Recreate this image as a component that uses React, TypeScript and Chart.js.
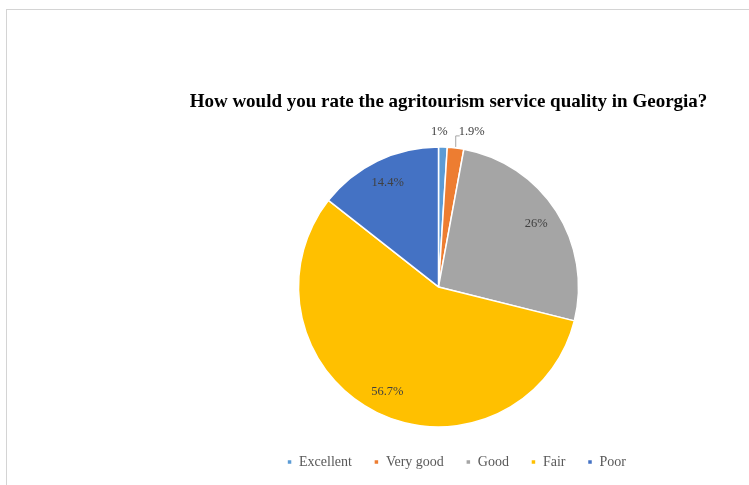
import React, { useEffect, useRef } from "react";
import { Chart, registerables } from "chart.js";

Chart.register(...registerables);

const TITLE = "How would you rate the agritourism service quality in Georgia?";
const categories = ["Excellent", "Very good", "Good", "Fair", "Poor"];
const values = [1, 1.9, 26, 56.7, 14.4];
const valueLabels = ["1%", "1.9%", "26%", "56.7%", "14.4%"];
const colors = ["#5B9BD5", "#ED7D31", "#A5A5A5", "#FFC000", "#4472C4"];

const SERIF = '"Liberation Serif", "Times New Roman", serif';

const shiftPlugin = {
  id: "shiftPie",
  afterLayout(chart: any) {
    const a = chart.chartArea;
    a.left -= 10;
    a.right -= 10;
    if (chart.legend) {
      chart.legend.left += 8;
      chart.legend.right += 8;
    }
  },
};

const labelPlugin = {
  id: "sliceLabels",
  afterDatasetsDraw(chart: any) {
    const ctx = chart.ctx;
    const meta = chart.getDatasetMeta(0);
    ctx.save();
    ctx.font = `12.5px ${SERIF}`;
    ctx.fillStyle = "#404040";
    ctx.textBaseline = "middle";
    meta.data.forEach((arc: any, i: number) => {
      const { x, y, startAngle, endAngle, outerRadius } = arc.getProps(
        ["x", "y", "startAngle", "endAngle", "outerRadius"],
        true
      );
      const mid = (startAngle + endAngle) / 2;
      if (values[i] >= 5) {
        const r = outerRadius * 0.83;
        ctx.textAlign = "center";
        ctx.fillText(valueLabels[i], x + Math.cos(mid) * r, y + Math.sin(mid) * r);
      } else if (i === 0) {
        const r = outerRadius + 15;
        ctx.textAlign = "center";
        ctx.fillText(valueLabels[i], x + Math.cos(mid) * r - 4, y + Math.sin(mid) * r);
      } else {
        const ex = x + Math.cos(mid) * (outerRadius + 1);
        const ey = y + Math.sin(mid) * (outerRadius + 1);
        const ly = y - outerRadius - 11;
        ctx.strokeStyle = "#a6a6a6";
        ctx.lineWidth = 1;
        ctx.beginPath();
        ctx.moveTo(ex, ey);
        ctx.lineTo(ex, ly);
        ctx.lineTo(ex + 4, ly);
        ctx.stroke();
        ctx.textAlign = "left";
        ctx.fillText(valueLabels[i], ex + 3, ly - 4);
      }
    });
    ctx.restore();
  },
};

export default function App() {
  const ref = useRef<HTMLCanvasElement | null>(null);

  useEffect(() => {
    if (!ref.current) return;
    const chart = new Chart(ref.current, {
      type: "pie",
      data: {
        labels: categories,
        datasets: [
          {
            data: values,
            backgroundColor: colors,
            borderColor: "#ffffff",
            borderWidth: 1.5,
            radius: 140,
          } as any,
        ],
      },
      options: {
        animation: false,
        responsive: false,
        maintainAspectRatio: false,
        layout: { padding: { left: 148, right: 0, top: 91, bottom: 6 } },
        plugins: {
          title: {
            display: true,
            text: TITLE,
            color: "#000000",
            font: { family: SERIF, size: 19, weight: "bold" },
            padding: { top: 0, bottom: 27 },
          },
          legend: {
            position: "bottom",
            labels: {
              boxWidth: 5,
              boxHeight: 5,
              padding: 22,
              color: "#595959",
              font: { family: SERIF, size: 14 },
            },
          },
          tooltip: { enabled: false },
        },
      },
      plugins: [shiftPlugin, labelPlugin],
    });
    return () => chart.destroy();
  }, []);

  return (
    <div style={{ position: "absolute", left: 0, top: 0, width: 749, height: 485, background: "#fff" }}>
      <div
        style={{
          position: "absolute",
          left: 6,
          top: 9,
          right: 0,
          bottom: 0,
          borderTop: "1px solid #d4d4d4",
          borderLeft: "1px solid #d4d4d4",
        }}
      />
      <canvas ref={ref} width={749} height={485} style={{ position: "absolute", left: 0, top: 0 }} />
    </div>
  );
}
